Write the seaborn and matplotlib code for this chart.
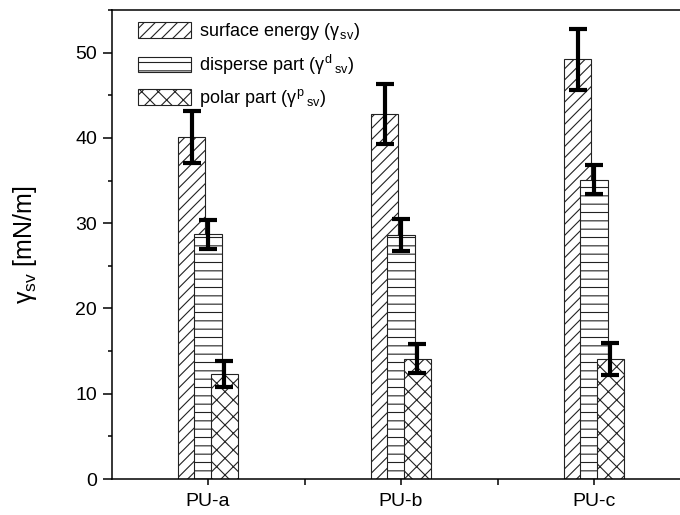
import matplotlib
matplotlib.use("Agg")
import matplotlib.pyplot as plt
from matplotlib.ticker import MultipleLocator, FixedLocator
import numpy as np
import pandas as pd
import seaborn as sns

# ---- data ----
samples = ["PU-a", "PU-b", "PU-c"]
part_labels = [r"surface energy ($\gamma_{\,sv}$)",
               r"disperse part ($\gamma^{\,d}{}_{\,sv}$)",
               r"polar part ($\gamma^{\,p}{}_{\,sv}$)"]
surface = [40.1, 42.8, 49.2]
surface_err = [3.1, 3.5, 3.6]
disperse = [28.7, 28.6, 35.1]
disperse_err = [1.7, 1.9, 1.7]
polar = [12.3, 14.1, 14.1]
polar_err = [1.5, 1.7, 1.9]

values = [surface, disperse, polar]
errors = [surface_err, disperse_err, polar_err]
hatches = ["///", "--", "xx"]

df = pd.DataFrame({
    "sample": samples * 3,
    "part": [p for p in part_labels for _ in samples],
    "value": surface + disperse + polar,
})

sns.set_style("ticks")
plt.rcParams["font.family"] = ["Liberation Sans", "DejaVu Sans"]
plt.rcParams["mathtext.fontset"] = "custom"
plt.rcParams["mathtext.rm"] = "Liberation Sans"
plt.rcParams["mathtext.it"] = "Liberation Sans"
plt.rcParams["mathtext.default"] = "regular"
plt.rcParams["hatch.linewidth"] = 0.8
plt.rcParams["hatch.color"] = "black"
plt.rcParams["text.color"] = "black"
plt.rcParams["axes.labelcolor"] = "black"
plt.rcParams["xtick.color"] = "black"
plt.rcParams["ytick.color"] = "black"

fig = plt.figure(figsize=(6.8, 5.15), dpi=100)
ax = fig.add_axes([111.5 / 680, 36 / 515, 579 / 680, 469 / 515])

sns.barplot(data=df, x="sample", y="value", hue="part", hue_order=part_labels,
            palette=["white"] * 3, width=0.25, dodge=True, edgecolor="#222222",
            linewidth=0.8, errorbar=None, ax=ax, legend=False)

bar_w = 0.14
bar_containers = list(ax.containers)
for i, cont in enumerate(bar_containers):
    xs = []
    for p in cont.patches:
        cx = p.get_x() + p.get_width() / 2
        p.set_width(bar_w)
        p.set_x(cx - bar_w / 2)
        p.set_hatch(hatches[i])
        p.set_edgecolor("#222222")
        xs.append(cx)
    ax.errorbar(xs, values[i], yerr=errors[i], fmt="none", ecolor="black",
                elinewidth=3.0, capsize=6.3, capthick=3.0, zorder=5)

ax.set_xlim(-0.5, 2.5)
ax.set_ylim(0, 55)
ax.yaxis.set_major_locator(MultipleLocator(10))
ax.yaxis.set_minor_locator(MultipleLocator(5))
ax.xaxis.set_minor_locator(FixedLocator([0.5, 1.5]))
ax.set_yticks(range(0, 51, 10))

for s in ax.spines.values():
    s.set_linewidth(1.1)
    s.set_color("black")
ax.tick_params(axis="y", which="major", direction="out", length=6.5, width=1.1, labelsize=14, pad=4, colors="black")
ax.tick_params(axis="y", which="minor", direction="out", length=3.2, width=1.1, colors="black")
ax.tick_params(axis="x", which="both", direction="out", length=4, width=1.1, labelsize=14, pad=6, colors="black")

ax.set_xlabel("")
ax.set_ylabel(r"$\gamma_{sv}$ [mN/m]", fontsize=18, labelpad=26, color="black")

handles = [cont.patches[0] for cont in bar_containers]
ax.legend(handles=handles, labels=part_labels, loc="upper left",
          bbox_to_anchor=(26 / 579, 1 - 11 / 469), borderaxespad=0, borderpad=0,
          frameon=False, handlelength=2.95, handleheight=0.95, labelspacing=0.58,
          handletextpad=0.45, fontsize=13, labelcolor="black")

fig.savefig("out.png", dpi=100)
